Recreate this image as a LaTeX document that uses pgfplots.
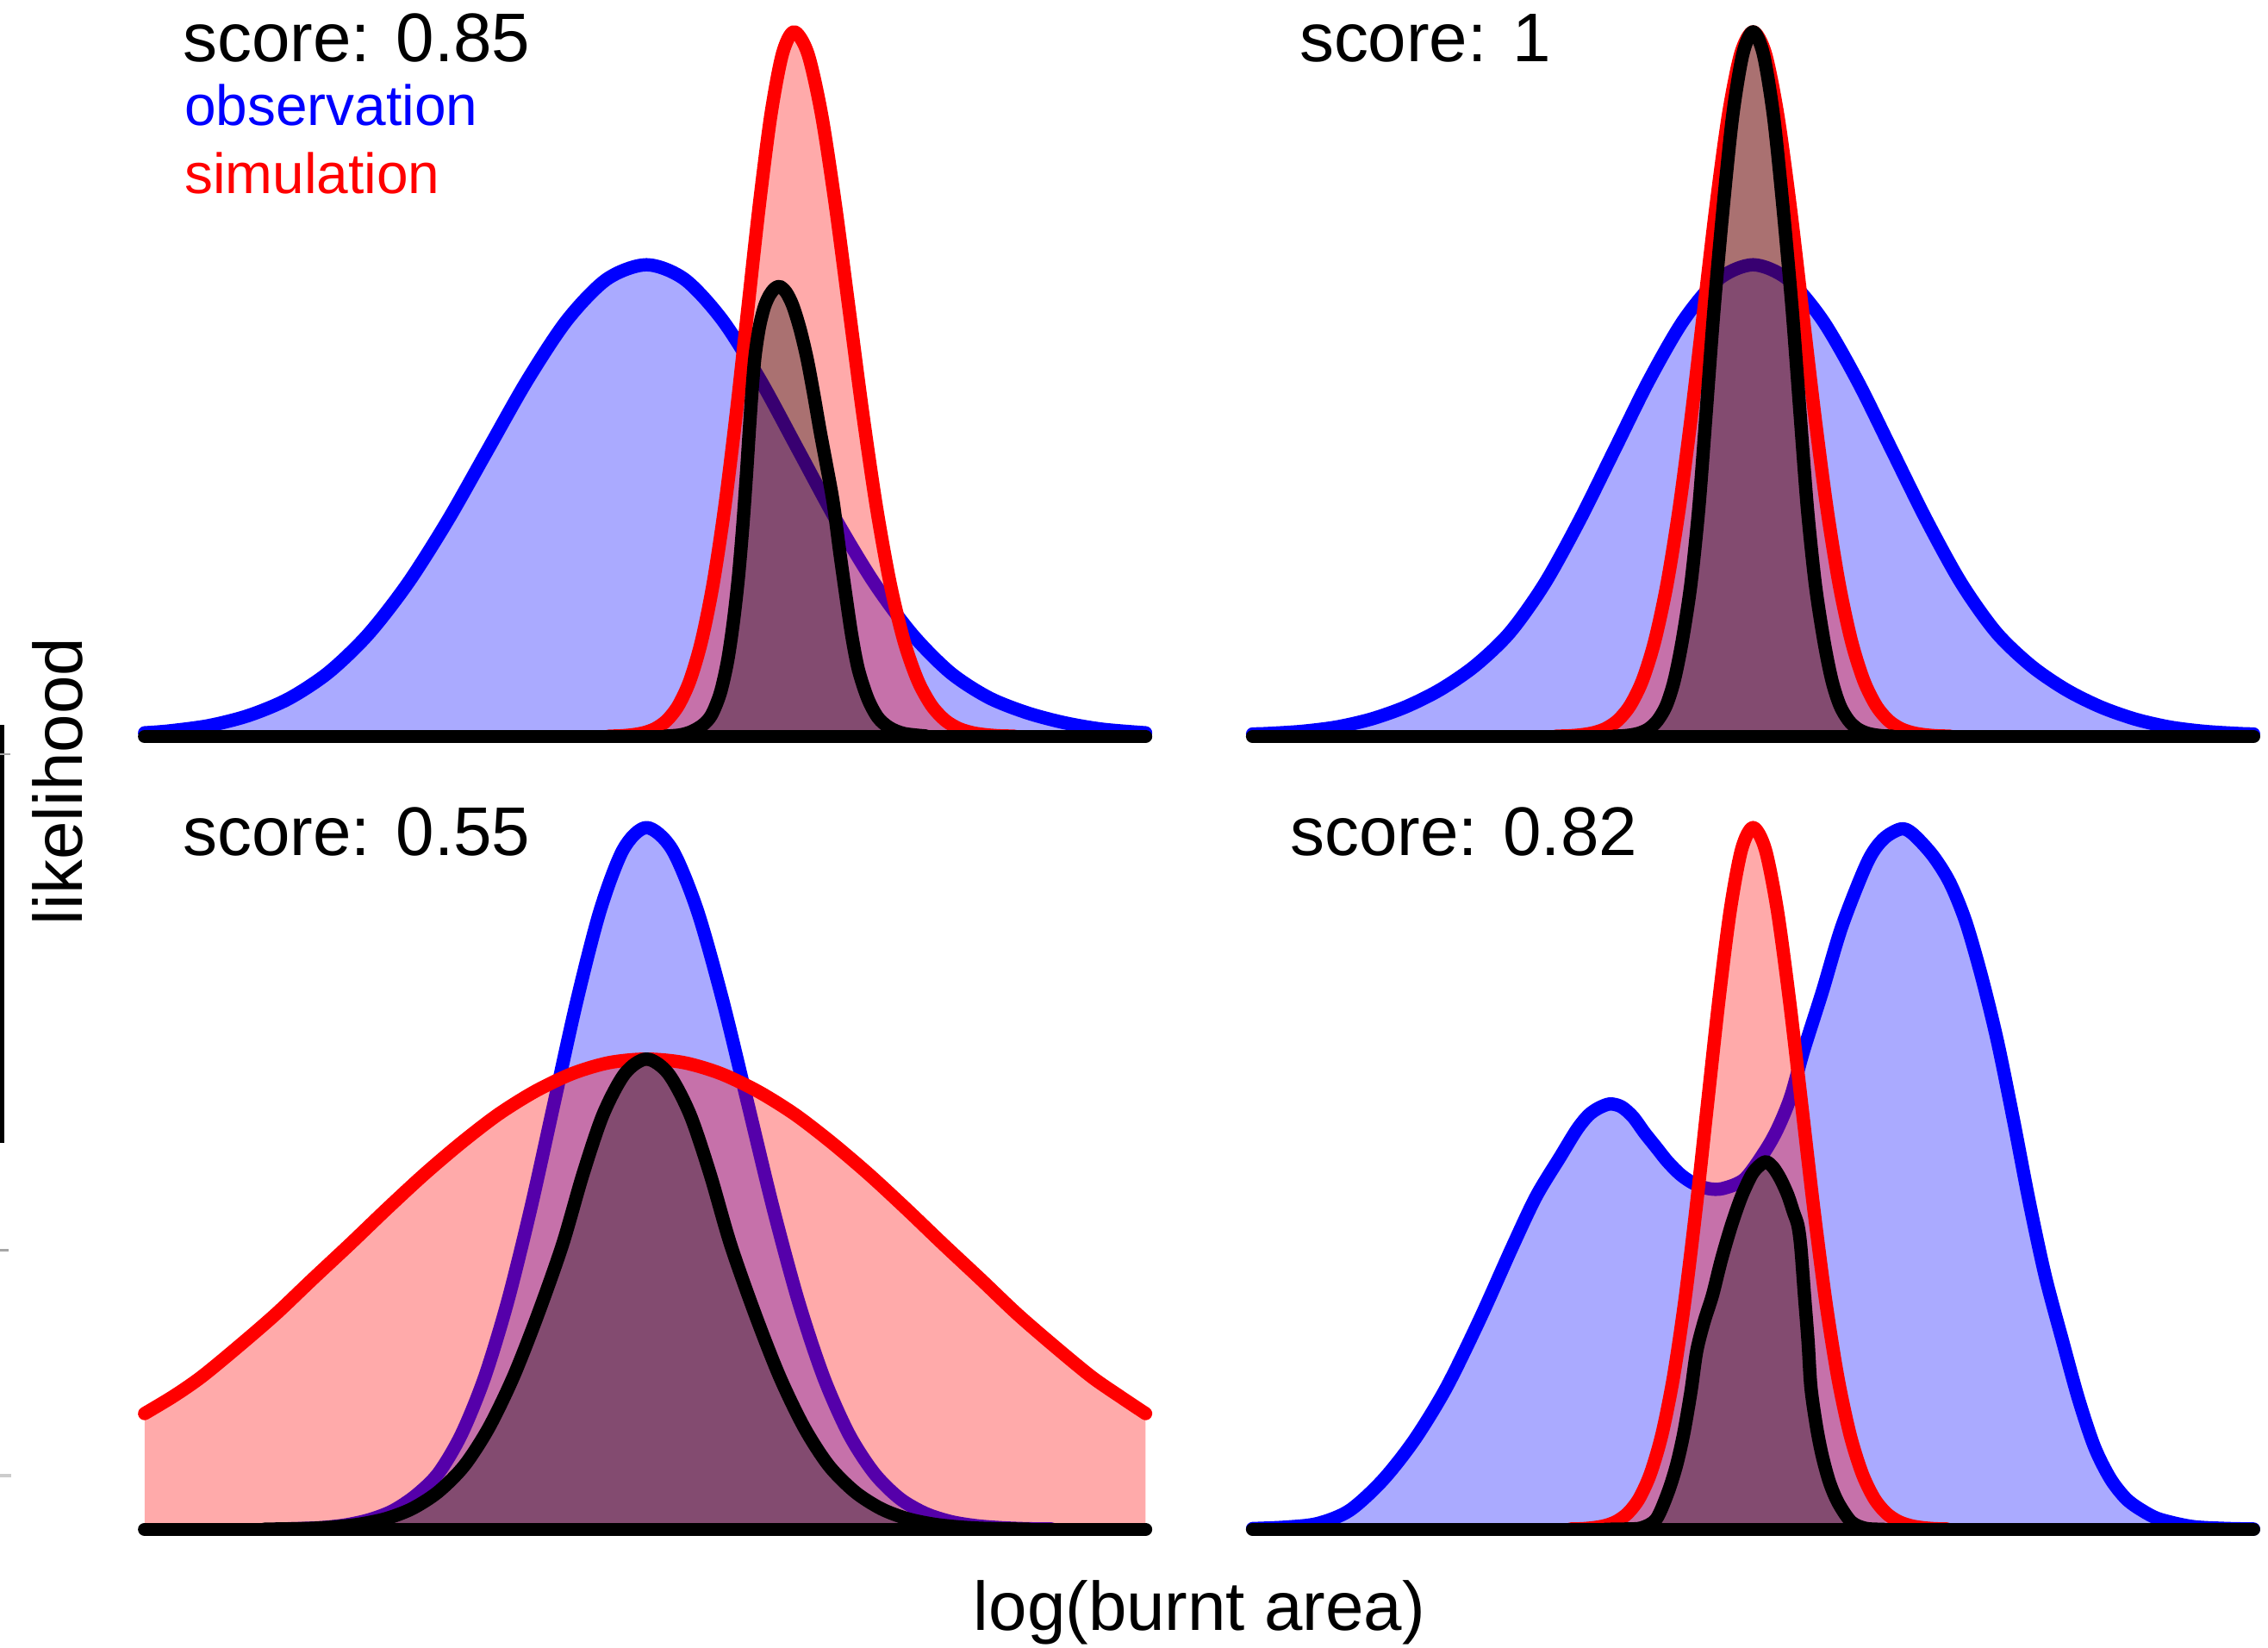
\documentclass[border=0pt]{standalone}
\usepackage{fontspec}
\setmainfont{Liberation Sans}
\usepackage{pgfplots}
\pgfplotsset{compat=1.18}
\usepackage{pgfplotstable}

% ---------- top-left (score 0.85)
\pgfplotstableread[row sep=\\]{x y\\
100 2.5\\ 117 3.8\\ 144.5 7.5\\ 172 14.5\\ 199.5 26\\ 227 44.1\\ 254.5 70.5\\ 282 105.9\\ 309.5 149.2\\ 337 197.7\\ 364.5 246.1\\ 392 287.7\\ 419.5 316.0\\ 447 326\\
473.25 316.0\\ 499.5 287.7\\ 525.75 246.1\\ 552 197.7\\ 578.25 149.2\\ 604.5 105.9\\ 630.75 70.5\\ 657 44.1\\ 683.25 27\\ 709.5 16.5\\ 735.75 9.5\\ 762 5\\ 792 2.5\\
}\TLb
\pgfplotstableread[row sep=\\]{x y\\
421 0.2\\ 429 0.4\\ 437 1.1\\ 445 2.5\\ 453 5.4\\ 461 11.1\\ 469 21.4\\ 477 38.7\\ 485 65.9\\ 493 105.3\\ 501 158.1\\ 509 223.0\\ 517 295.4\\ 525 367.6\\ 533 429.8\\ 541 472.0\\ 549 487\\
558.5 472.0\\ 568 429.8\\ 577.5 367.6\\ 587 295.4\\ 596.5 223.0\\ 606 158.1\\ 615.5 105.3\\ 625 65.9\\ 634.5 38.7\\ 644 21.4\\ 653.5 11.1\\ 663 5.4\\ 672.5 2.5\\ 682 1.1\\ 691.5 0.4\\ 701 0.2\\
}\TLr
\pgfplotstableread[row sep=\\]{x y\\
460 0.2\\ 470 1\\ 478 3.3\\ 486 8\\ 492 15\\ 498 30\\ 503 52\\ 507 79\\ 510.5 110\\ 513.5 145\\ 516 180\\ 518 211\\ 520 240\\ 522 263\\ 525 283\\ 528.5 297\\ 532 305\\ 535.5 309.5\\ 539 311\\
543.5 307\\ 548 298\\ 553 282\\ 558 261\\ 562.5 237\\ 567 211\\ 571.5 187\\ 576 162\\ 580.5 128\\ 585 96\\ 589 69\\ 593.5 46\\ 600 26\\ 607 13\\ 615 6\\ 625 2\\ 640 0.3\\
}\TLk
% ---------- top-right (score 1)
\pgfplotstableread[row sep=\\]{x y\\
866 1.7\\ 876 2\\ 900 3.5\\ 924 6.5\\ 948 12\\ 972 20.5\\ 996 32.5\\ 1020 49\\ 1044 72\\ 1068 105.8\\ 1092 149.3\\ 1116 197.7\\ 1140 246.1\\ 1164 287.7\\ 1188 316.0\\ 1212 326\\
1236 316.0\\ 1260 287.7\\ 1284 246.1\\ 1308 197.7\\ 1332 149.3\\ 1356 105.8\\ 1380 72\\ 1404 49\\ 1428 32.5\\ 1452 20.5\\ 1476 12\\ 1500 6.5\\ 1524 3.5\\ 1548 2\\ 1558 1.7\\
}\TRb
\pgfplotstableread[row sep=\\]{x y\\
1076 0.2\\ 1084.5 0.4\\ 1093 1.1\\ 1101.5 2.5\\ 1110 5.4\\ 1118.5 11.1\\ 1127 21.4\\ 1135.5 38.7\\ 1144 65.9\\ 1152.5 105.3\\ 1161 158.1\\ 1169.5 223.0\\ 1178 295.4\\ 1186.5 367.6\\ 1195 429.8\\ 1203.5 472.0\\ 1212 487\\
1220.5 472.0\\ 1229 429.8\\ 1237.5 367.6\\ 1246 295.4\\ 1254.5 223.0\\ 1263 158.1\\ 1271.5 105.3\\ 1280 65.9\\ 1288.5 38.7\\ 1297 21.4\\ 1305.5 11.1\\ 1314 5.4\\ 1322.5 2.5\\ 1331 1.1\\ 1339.5 0.4\\ 1348 0.2\\
}\TRr
\pgfplotstableread[row sep=\\]{x y\\
1116 0.2\\ 1122 0.4\\ 1128 1.1\\ 1134 2.5\\ 1140 5.4\\ 1146 11.1\\ 1152 21.4\\ 1157.5 38.7\\ 1163 65.9\\ 1169 105.3\\ 1174.5 158.1\\ 1179.5 223.0\\ 1185 295.4\\ 1191.5 367.6\\ 1198 429.8\\ 1205 472.0\\ 1212 487\\
1219 472.0\\ 1226 429.8\\ 1232.5 367.6\\ 1239 295.4\\ 1244.5 223.0\\ 1249.5 158.1\\ 1255 105.3\\ 1261 65.9\\ 1266.5 38.7\\ 1272 21.4\\ 1278 11.1\\ 1284 5.4\\ 1290 2.5\\ 1296 1.1\\ 1302 0.4\\ 1308 0.2\\
}\TRk
% ---------- bottom-left (score 0.55)
\pgfplotstableread[row sep=\\]{x y\\
191 0.2\\ 207 0.5\\ 223 1.2\\ 239 3\\ 255 6.5\\ 271 12.5\\ 287 23\\ 303 38.6\\ 319 65.6\\ 335 104.9\\ 351 157.5\\ 367 222.0\\ 383 294.2\\ 399 366.1\\ 415 428.0\\ 431 470.1\\ 447 485\\
464.5 470.1\\ 482 428.0\\ 499.5 366.1\\ 517 294.2\\ 534.5 222.0\\ 552 157.5\\ 569.5 104.9\\ 587 65.6\\ 604.5 38.6\\ 622 21.3\\ 639.5 11.1\\ 657 5.4\\ 674.5 2.5\\ 692 1.1\\ 709.5 0.4\\ 727 0.2\\
}\BLb
\pgfplotstableread[row sep=\\]{x y\\
100 80\\ 120 92\\ 139.5 105.5\\ 165 126.5\\ 190.75 148.8\\ 216 172.8\\ 242 197.1\\ 267.5 221.5\\ 293.25 245.3\\ 319 267.2\\ 344.5 286.8\\ 370 302.7\\ 395.75 315.0\\ 421 322.5\\ 447 325\\
473 322.5\\ 498.25 315.0\\ 524 302.7\\ 549.5 286.8\\ 575 267.2\\ 600.75 245.3\\ 626.5 221.5\\ 652 197.1\\ 678 172.8\\ 703.25 148.8\\ 729 126.5\\ 754.5 105.5\\ 774 92\\ 792 80\\
}\BLr
\pgfplotstableread[row sep=\\]{x y\\
183 0.1\\ 200 0.3\\ 216 0.7\\ 232 1.7\\ 249 3.6\\ 267 7.4\\ 285 14.3\\ 303 25.9\\ 321 44.0\\ 338 70.3\\ 355 105.5\\ 372 148.8\\ 389 197.1\\ 403 245.3\\ 417 286.8\\ 432 315.0\\ 447 325\\
462 315.0\\ 477 286.8\\ 491 245.3\\ 505 197.1\\ 522 148.8\\ 539 105.5\\ 556 70.3\\ 573 44.0\\ 591 25.9\\ 609 14.3\\ 627 7.4\\ 645 3.6\\ 662 1.7\\ 678 0.7\\ 694 0.3\\ 711 0.1\\
}\BLk
% ---------- bottom-right (score 0.82)
\pgfplotstableread[row sep=\\]{x y\\
866 0.5\\ 889 1.5\\ 911 4\\ 933 13\\ 956 34\\ 978 62\\ 1000 98\\ 1023 145\\ 1045 194\\ 1062 230\\ 1079 258\\ 1090 276\\ 1098 286\\ 1105 291\\ 1113 294\\ 1121 292\\ 1129 285\\
1137 274\\ 1145 264\\ 1153 254\\ 1162 245\\ 1171 239\\ 1181 235.5\\ 1191 235.5\\ 1206 242\\ 1220 261\\ 1229 277\\ 1238 299\\ 1247 331\\ 1260 372\\ 1273.5 417\\ 1291 461\\ 1302 477\\ 1314 484\\
1322 481\\ 1336 466\\ 1348 447\\ 1359 420\\ 1370 382\\ 1381 337\\ 1392 283\\ 1403 226\\ 1414 175\\ 1426 130\\ 1437 90\\ 1448 57\\ 1459 35\\ 1470 21\\ 1481 13\\ 1493 7\\ 1515 2\\ 1538 0.6\\ 1558 0.2\\
}\BRb
\pgfplotstableread[row sep=\\]{x y\\
1086 0.2\\ 1093.9 0.4\\ 1101.75 1.1\\ 1109.6 2.5\\ 1117.5 5.4\\ 1125.4 11.1\\ 1133.25 21.3\\ 1141.1 38.6\\ 1149 65.6\\ 1156.9 104.9\\ 1164.75 157.5\\ 1172.6 222.0\\ 1180.5 294.2\\ 1188.4 366.1\\ 1196.25 428.0\\ 1204.1 470.1\\ 1212 485\\
1220.4 470.1\\ 1228.75 428.0\\ 1237.1 366.1\\ 1245.5 294.2\\ 1253.9 222.0\\ 1262.25 157.5\\ 1270.6 104.9\\ 1279 65.6\\ 1287.4 38.6\\ 1295.75 21.3\\ 1304.1 11.1\\ 1312.5 5.4\\ 1320.9 2.5\\ 1329.25 1.1\\ 1337.6 0.4\\ 1346 0.2\\
}\BRr
\pgfplotstableread[row sep=\\]{x y\\
1110 0\\ 1124 0.2\\ 1135 1\\ 1145 7\\ 1153 25\\ 1159 44\\ 1164 66\\ 1169 95\\ 1173 123\\ 1178 143\\ 1184 162\\ 1190 186\\ 1197 210\\ 1204 230\\ 1211 245\\ 1216 251\\ 1221 254\\
1226 250\\ 1231 242\\ 1236 231\\ 1240 219\\ 1243 210\\ 1245 195\\ 1247.5 162\\ 1250 130\\ 1252 98\\ 1256 70\\ 1260 50\\ 1265 32\\ 1271 18\\ 1280 5\\ 1290 0.6\\ 1302 0\\
}\BRk

\pgfplotsset{
  panel/.style={hide axis, scale only axis, width=346pt, height=250pt,
    ymin=0, ymax=500, clip=false, anchor=south west},
  ln/.style={smooth, line width=4.6pt, line cap=round, line join=round, mark=none},
  fl/.style={smooth, draw=none, fill opacity=0.333, mark=none},
  baseln/.style={sharp plot, black, line width=4.6pt, line cap=round, mark=none},
}

\begin{document}
\begin{tikzpicture}
\useasboundingbox (0,0) rectangle (784pt,-569.5pt);

% stray marks at the left edge of the reference
\fill[black] (0,-250.4pt) rectangle (1.6pt,-395pt);
\fill[gray!70] (0,-260.2pt) rectangle (3.5pt,-261pt);
\fill[gray!70] (0,-431.6pt) rectangle (3pt,-432.6pt);
\fill[gray!40] (0,-509.4pt) rectangle (4pt,-510.6pt);

% ---------------- top-left
\begin{axis}[panel, at={(50pt,-254.5pt)}, xmin=100, xmax=792]
\addplot[fl, fill=blue] table {\TLb} \closedcycle;
\addplot[ln, blue] table {\TLb};
\addplot[fl, fill=red] table {\TLr} \closedcycle;
\addplot[ln, red] table {\TLr};
\addplot[fl, fill=black] table {\TLk} \closedcycle;
\addplot[ln, black] table {\TLk};
\addplot[baseln] coordinates {(100,0) (792,0)};
\end{axis}

% ---------------- top-right
\begin{axis}[panel, at={(433pt,-254.5pt)}, xmin=866, xmax=1558]
\addplot[fl, fill=blue] table {\TRb} \closedcycle;
\addplot[ln, blue] table {\TRb};
\addplot[fl, fill=red] table {\TRr} \closedcycle;
\addplot[ln, red] table {\TRr};
\addplot[fl, fill=black] table {\TRk} \closedcycle;
\addplot[ln, black] table {\TRk};
\addplot[baseln] coordinates {(866,0) (1558,0)};
\end{axis}

% ---------------- bottom-left
\begin{axis}[panel, at={(50pt,-528.5pt)}, xmin=100, xmax=792]
\addplot[fl, fill=blue] table {\BLb} \closedcycle;
\addplot[ln, blue] table {\BLb};
\addplot[fl, fill=red] table {\BLr} \closedcycle;
\addplot[ln, red] table {\BLr};
\addplot[fl, fill=black] table {\BLk} \closedcycle;
\addplot[ln, black] table {\BLk};
\addplot[baseln] coordinates {(100,0) (792,0)};
\end{axis}

% ---------------- bottom-right
\begin{axis}[panel, at={(433pt,-528.5pt)}, xmin=866, xmax=1558]
\addplot[fl, fill=blue] table {\BRb} \closedcycle;
\addplot[ln, blue] table {\BRb};
\addplot[fl, fill=red] table {\BRr} \closedcycle;
\addplot[ln, red] table {\BRr};
\addplot[fl, fill=black] table {\BRk} \closedcycle;
\addplot[ln, black] table {\BRk};
\addplot[baseln] coordinates {(866,0) (1558,0)};
\end{axis}

% ---------------- texts
\node[anchor=base west, inner sep=0, font=\fontsize{23.8}{28}\selectfont] at (63.1pt,-21.2pt) {score: 0.85};
\node[anchor=base west, inner sep=0, font=\fontsize{19.6}{24}\selectfont, text=blue] at (63.6pt,-43.3pt) {observation};
\node[anchor=base west, inner sep=0, font=\fontsize{19.6}{24}\selectfont, text=red] at (63.6pt,-67pt) {simulation};
\node[anchor=base west, inner sep=0, font=\fontsize{23.8}{28}\selectfont] at (449pt,-21.2pt) {score: 1};
\node[anchor=base west, inner sep=0, font=\fontsize{23.8}{28}\selectfont] at (63.1pt,-295.5pt) {score: 0.55};
\node[anchor=base west, inner sep=0, font=\fontsize{23.8}{28}\selectfont] at (445.8pt,-295.5pt) {score: 0.82};
\node[anchor=base, inner sep=0, font=\fontsize{23.8}{28}\selectfont] at (414.6pt,-563.5pt) {log(burnt area)};
\node[anchor=base, inner sep=0, rotate=90, font=\fontsize{23.8}{28}\selectfont] at (28.5pt,-270pt) {likelihood};
\end{tikzpicture}
\end{document}
